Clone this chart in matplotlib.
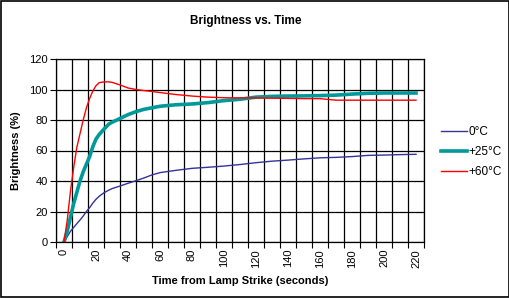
import numpy as np
import matplotlib
matplotlib.use('Agg')
import matplotlib.pyplot as plt
from matplotlib.patches import Rectangle

plt.rcParams['font.family'] = ['Liberation Sans', 'DejaVu Sans']

# lamp warm-up readings
time = [0, 2, 4, 6, 8, 10, 12, 14, 16, 18, 20, 22, 25, 28, 30, 35, 40, 45, 50, 55,
        60, 70, 80, 90, 100, 110, 120, 130, 140, 150, 160, 170, 180, 190, 200, 210, 220]

temp_0 = [0, 3.5, 7, 9.5, 12, 14.4, 17, 20, 22.5, 25.5, 28, 30, 32.3, 34, 35, 36.7, 38.5, 40.2, 42, 44,
          45.5, 47, 48.3, 49, 49.8, 50.8, 52, 53, 53.7, 54.5, 55.2, 55.5, 56, 56.8, 57, 57.3, 57.5]

temp_25 = [0, 7, 16, 25, 32.5, 40, 46, 51, 56, 62.5, 67.5, 70.5, 74, 77.3, 78.5, 81, 83.5, 85.5, 87, 88,
           89, 90, 90.5, 91.4, 92.7, 93.6, 95, 95.5, 95.7, 95.8, 96, 96.3, 97, 97.5, 97.7, 97.7, 97.7]

temp_60 = [0, 14, 33, 48.5, 62, 71, 80, 88, 94, 99, 102.5, 104.5, 105, 105, 104.7, 103, 101, 100, 99.3, 98.7,
           98, 96.7, 95.7, 95, 94.6, 94.5, 94.5, 94.3, 94.2, 94, 94, 93, 93, 93, 93, 93, 93]

labels = ['0°C', '+25°C', '+60°C']

fig = plt.figure(figsize=(5.10, 2.98), dpi=100)
ax = fig.add_axes([56 / 510, 56 / 298, 368 / 510, 183 / 298])

ax.plot(time, temp_0, color='#333399', lw=1.0, label=labels[0])
ax.plot(time, temp_25, color='#009999', lw=2.6, label=labels[1])
ax.plot(time, temp_60, color='#ff0000', lw=1.0, label=labels[2])

ax.set_xlim(-5, 225)
ax.set_ylim(0, 120)

# gridlines sit between the categories, labels on every other category
ax.set_xticks(np.arange(-5, 226, 10))
ax.set_xticklabels([])
ax.set_xticks(np.arange(0, 221, 20), minor=True)
ax.set_xticklabels([str(v) for v in range(0, 221, 20)], minor=True, rotation=90, fontsize=8)
ax.tick_params(axis='x', which='major', direction='out', length=4, width=0.8, color='black')
ax.tick_params(axis='x', which='minor', length=0, pad=5)

ax.set_yticks(np.arange(0, 121, 20))
ax.tick_params(axis='y', direction='out', length=4, width=0.8, labelsize=8, pad=2)

ax.grid(True, which='major', color='black', lw=0.9)
for s in ax.spines.values():
    s.set_color('black')
    s.set_linewidth(0.9)

ax.set_xlabel('Time from Lamp Strike (seconds)', fontsize=8, fontweight='bold', labelpad=6)
ax.set_ylabel('Brightness (%)', fontsize=8, fontweight='bold', labelpad=6)
fig.text(246 / 510, 1 - 21 / 298, 'Brightness vs. Time', ha='center', va='center',
         fontsize=8.5, fontweight='bold')

ax.legend(loc='center left', bbox_to_anchor=(436 / 510, 1 - 152 / 298), bbox_transform=fig.transFigure,
          frameon=False, fontsize=8.5, handlelength=2.2, handletextpad=0.15, labelspacing=0.7,
          borderaxespad=0)

# chart area border
fig.patches.append(Rectangle((0.001, 0.002), 0.997, 0.995, transform=fig.transFigure,
                             fill=False, edgecolor='black', lw=1.2))

plt.savefig('out.png', dpi=100)
